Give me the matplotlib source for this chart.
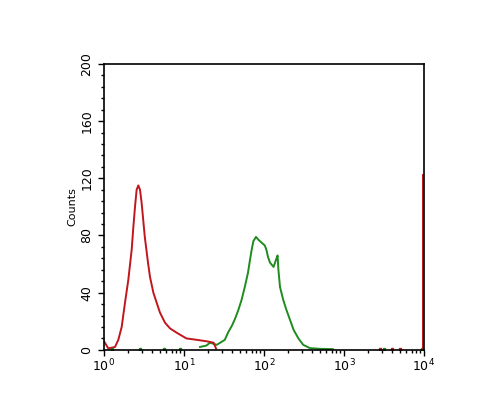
import numpy as np
import matplotlib.pyplot as plt

# log10 of fluorescence intensity vs counts
red_log = [0.0, 0.054, 0.1375, 0.179, 0.221, 0.2625, 0.304, 0.346, 0.367, 0.3875,
           0.408, 0.429, 0.45, 0.47, 0.49, 0.51, 0.53, 0.55, 0.575, 0.617, 0.658,
           0.7, 0.7625, 0.825, 0.908, 1.03, 1.16, 1.28, 1.37, 1.40]
red_counts = [6, 1, 2, 7, 16, 33, 49, 70, 86, 100, 112, 115, 112, 103, 91, 79,
              70, 61, 51, 40, 33, 26, 19, 15, 12, 8, 7, 6, 5, 1]

green_log = [1.2, 1.28, 1.325, 1.41, 1.51, 1.55, 1.6, 1.64, 1.68, 1.72, 1.76, 1.80,
             1.825, 1.846, 1.867, 1.9, 1.93, 1.97, 2.01, 2.03, 2.05, 2.075, 2.12,
             2.15, 2.17, 2.18, 2.2, 2.24, 2.28, 2.325, 2.37, 2.43, 2.49, 2.575,
             2.7, 2.86]
green_counts = [2, 3, 5, 3.5, 7, 12, 17, 22, 28, 35, 44, 54, 63, 70, 76, 79, 77,
                75, 73, 70, 65, 61, 58, 63, 66, 56, 44, 35, 28, 21, 14, 8, 3.5,
                1.2, 0.7, 0.5]

# sparse events near the baseline
red_dots_log = [3.45, 3.6, 3.7]
green_dots_log = [0.1, 0.45, 0.75, 0.95, 3.5, 3.98]

# pile-up at the top of the scale
red_edge_count = 122

red = '#c0161c'
green = '#1e8c1e'

fig = plt.figure(figsize=(5, 4.15), dpi=100)
ax = fig.add_axes([0.208, 0.157, 0.64, 0.689])

ax.plot(10 ** np.array(green_log), green_counts, color=green, lw=1.4)
ax.plot(10 ** np.array(red_log), red_counts, color=red, lw=1.4)
ax.plot(10 ** np.array(red_dots_log), np.zeros(len(red_dots_log)) + 0.8, 's',
        color=red, ms=1.5)
ax.plot(10 ** np.array(green_dots_log), np.zeros(len(green_dots_log)) + 0.8, 's',
        color=green, ms=1.5)
ax.plot([10 ** 3.99, 10 ** 3.99], [0, red_edge_count], color=red, lw=1.4)

ax.set_xscale('log')
ax.set_xlim(1, 1e4)
ax.set_ylim(0, 200)
ax.set_yticks([0, 40, 80, 120, 160, 200])
ax.set_yticks(np.arange(0, 201, 8), minor=True)
ax.set_xticks([1, 10, 100, 1000, 10000])
ax.set_xticklabels([r'$10^0$', r'$10^1$', r'$10^2$', r'$10^3$', r'$10^4$'])

ax.tick_params(axis='both', which='major', direction='out', length=4, width=1,
               labelsize=9, colors='black')
ax.tick_params(axis='both', which='minor', direction='out', length=2.5, width=1)
for lab in ax.get_yticklabels():
    lab.set_rotation(90)
    lab.set_va('center')
ax.tick_params(axis='x', pad=2)
ax.set_ylabel('Counts', fontsize=8, labelpad=2)

for s in ax.spines.values():
    s.set_linewidth(1.2)

plt.savefig('out.png', dpi=100)
